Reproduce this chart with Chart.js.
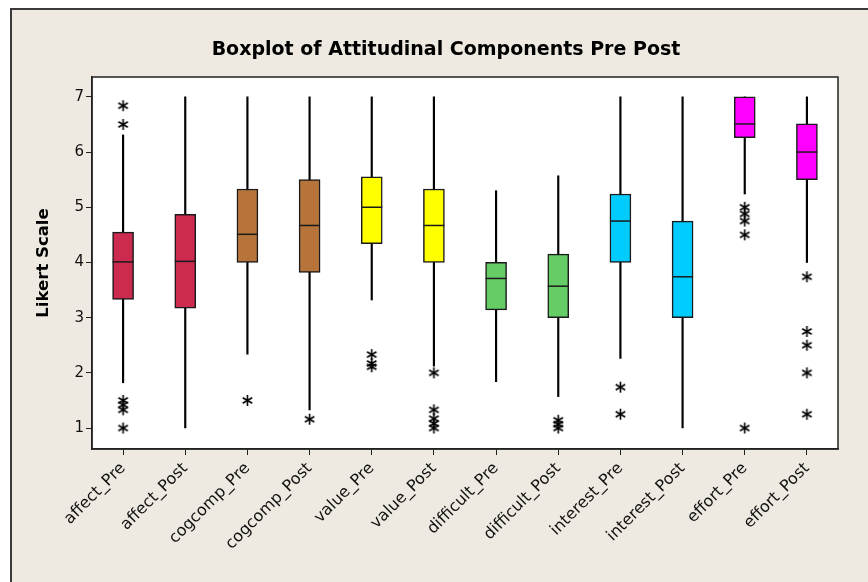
<!DOCTYPE html>
<html>
<head>
<meta charset="utf-8">
<script src="https://cdn.jsdelivr.net/npm/chart.js@4"></script>
<style>
  html, body { margin: 0; padding: 0; background: #fff; }
  #frame {
    position: absolute; left: 10px; top: 8px; right: 0; bottom: 0;
    background: #eeeae1;
    border-left: 2px solid #3a3a3a;
    border-top: 2px solid #3a3a3a;
    overflow: hidden;
  }
  canvas { display: block; }
</style>
</head>
<body>
<div id="frame"><canvas id="chart" width="856" height="572"></canvas></div>
<script>
// Boxplot of attitudinal components, pre vs post survey.
// Chart.js has no boxplot type, so each box is built from a floating
// whisker bar, a floating box bar, a median tick and asterisk outliers.

const categories = [
  "affect_Pre", "affect_Post", "cogcomp_Pre", "cogcomp_Post",
  "value_Pre", "value_Post", "difficult_Pre", "difficult_Post",
  "interest_Pre", "interest_Post", "effort_Pre", "effort_Post",
];
const whiskerLow = [1.82, 1.0, 2.34, 1.33, 3.32, 2.12, 1.84, 1.57, 2.26, 1.0, 5.24, 4.0];
const q1 =         [3.33, 3.17, 4.0, 3.82, 4.34, 4.0, 3.14, 3.0, 4.0, 3.0, 6.26, 5.5];
const medians =    [4.01, 4.02, 4.51, 4.67, 5.0, 4.67, 3.71, 3.57, 4.75, 3.74, 6.51, 6.0];
const q3 =         [4.55, 4.87, 5.33, 5.5, 5.55, 5.33, 4.0, 4.15, 5.24, 4.75, 7.0, 6.51];
const whiskerHigh = [6.31, 7.0, 7.0, 7.0, 7.0, 7.0, 5.3, 5.57, 7.0, 7.0, 7.0, 7.0];
const outliers = [
  [6.84, 6.5, 1.5, 1.42, 1.33, 1.0],
  [],
  [1.5],
  [1.16],
  [2.33, 2.17, 2.11],
  [2.0, 1.33, 1.17, 1.08, 1.0],
  [],
  [1.14, 1.07, 1.0],
  [1.74, 1.25],
  [],
  [5.0, 4.88, 4.75, 4.5, 1.0],
  [3.74, 2.75, 2.5, 2.0, 1.25],
];
const yTicks = [1, 2, 3, 4, 5, 6, 7];

const boxColors = [
  "#cc2a4f", "#cc2a4f", "#b6733a", "#b6733a", "#ffff00", "#ffff00",
  "#66cc66", "#66cc66", "#00ccff", "#00ccff", "#ff00ff", "#ff00ff",
];

// Minitab-style six-armed asterisk used as the outlier marker.
function makeAsterisk() {
  const c = document.createElement("canvas");
  c.width = 13;
  c.height = 13;
  const g = c.getContext("2d");
  g.strokeStyle = "#000";
  g.lineWidth = 1.6;
  const cx = 6.5, cy = 6.5, r = 5.5;
  for (const deg of [90, 30, 150]) {
    const a = (deg * Math.PI) / 180;
    g.beginPath();
    g.moveTo(cx - r * Math.cos(a), cy - r * Math.sin(a));
    g.lineTo(cx + r * Math.cos(a), cy + r * Math.sin(a));
    g.stroke();
  }
  return c;
}

const outlierPoints = [];
outliers.forEach((vals, i) => {
  for (const v of vals) outlierPoints.push({ x: categories[i], y: v });
});

// White plot panel with a full black frame, like the Minitab graph.
const plotFrame = {
  id: "plotFrame",
  beforeDraw(chart) {
    const { ctx, chartArea: a } = chart;
    ctx.save();
    ctx.fillStyle = "#fff";
    ctx.fillRect(a.left, a.top, a.right - a.left, a.bottom - a.top);
    ctx.restore();
  },
  afterDraw(chart) {
    const { ctx, chartArea: a } = chart;
    ctx.save();
    ctx.strokeStyle = "#222";
    ctx.lineWidth = 1.5;
    ctx.strokeRect(a.left, a.top, a.right - a.left, a.bottom - a.top);
    ctx.restore();
  },
};

new Chart(document.getElementById("chart"), {
  type: "bar",
  data: {
    labels: categories,
    datasets: [
      {
        label: "whisker",
        data: categories.map((_, i) => [whiskerLow[i], whiskerHigh[i]]),
        backgroundColor: "#000",
        borderWidth: 0,
        barThickness: 1.5,
        grouped: false,
        order: 4,
      },
      {
        label: "box",
        data: categories.map((_, i) => [q1[i], q3[i]]),
        backgroundColor: boxColors,
        borderColor: "#1a1a1a",
        borderWidth: 1.5,
        borderSkipped: false,
        barThickness: 21,
        grouped: false,
        order: 3,
      },
      {
        type: "line",
        label: "median",
        data: medians,
        showLine: false,
        pointStyle: "line",
        pointRadius: 10.5,
        pointBorderWidth: 1.5,
        pointBorderColor: "#1a1a1a",
        order: 2,
      },
      {
        type: "line",
        label: "outliers",
        data: outlierPoints,
        showLine: false,
        pointStyle: makeAsterisk(),
        order: 1,
      },
    ],
  },
  options: {
    responsive: false,
    animation: false,
    devicePixelRatio: 1,
    layout: { padding: { left: 12, right: 0, top: 0, bottom: 0 } },
    plugins: {
      legend: { display: false },
      tooltip: { enabled: false },
      title: {
        display: true,
        text: "Boxplot of Attitudinal Components Pre Post",
        color: "#000",
        font: { family: "DejaVu Sans", size: 19, weight: "bold" },
        padding: { top: 28.6, bottom: 15.6 },
      },
    },
    scales: {
      x: {
        offset: true,
        grid: {
          offset: false,
          drawOnChartArea: false,
          drawTicks: true,
          tickLength: 6,
          color: "#222",
        },
        border: { display: true, color: "#222", width: 1.5 },
        ticks: {
          color: "#111",
          font: { family: "DejaVu Sans", size: 16 },
          maxRotation: 45,
          minRotation: 45,
          padding: 4,
        },
        afterFit: (s) => { s.height = 133; },
      },
      y: {
        min: 0.62,
        max: 7.36,
        afterBuildTicks: (s) => { s.ticks = yTicks.map((v) => ({ value: v })); },
        grid: {
          drawOnChartArea: false,
          drawTicks: true,
          tickLength: 6,
          color: "#222",
        },
        border: { display: true, color: "#222", width: 1.5 },
        ticks: { color: "#111", font: { family: "DejaVu Sans", size: 15 }, padding: 2 },
        title: {
          display: true,
          text: "Likert Scale",
          color: "#000",
          font: { family: "DejaVu Sans", size: 16.5, weight: "bold" },
          padding: { top: 10, bottom: 0 },
        },
        afterFit: (s) => { s.width = 68; },
      },
      // empty right-hand axis: only reserves the gap right of the plot
      yRight: {
        position: "right",
        display: true,
        grid: { display: false },
        border: { display: false },
        ticks: { display: false },
        afterFit: (s) => { s.width = 30; },
      },
    },
  },
  plugins: [plotFrame],
});
</script>
</body>
</html>
